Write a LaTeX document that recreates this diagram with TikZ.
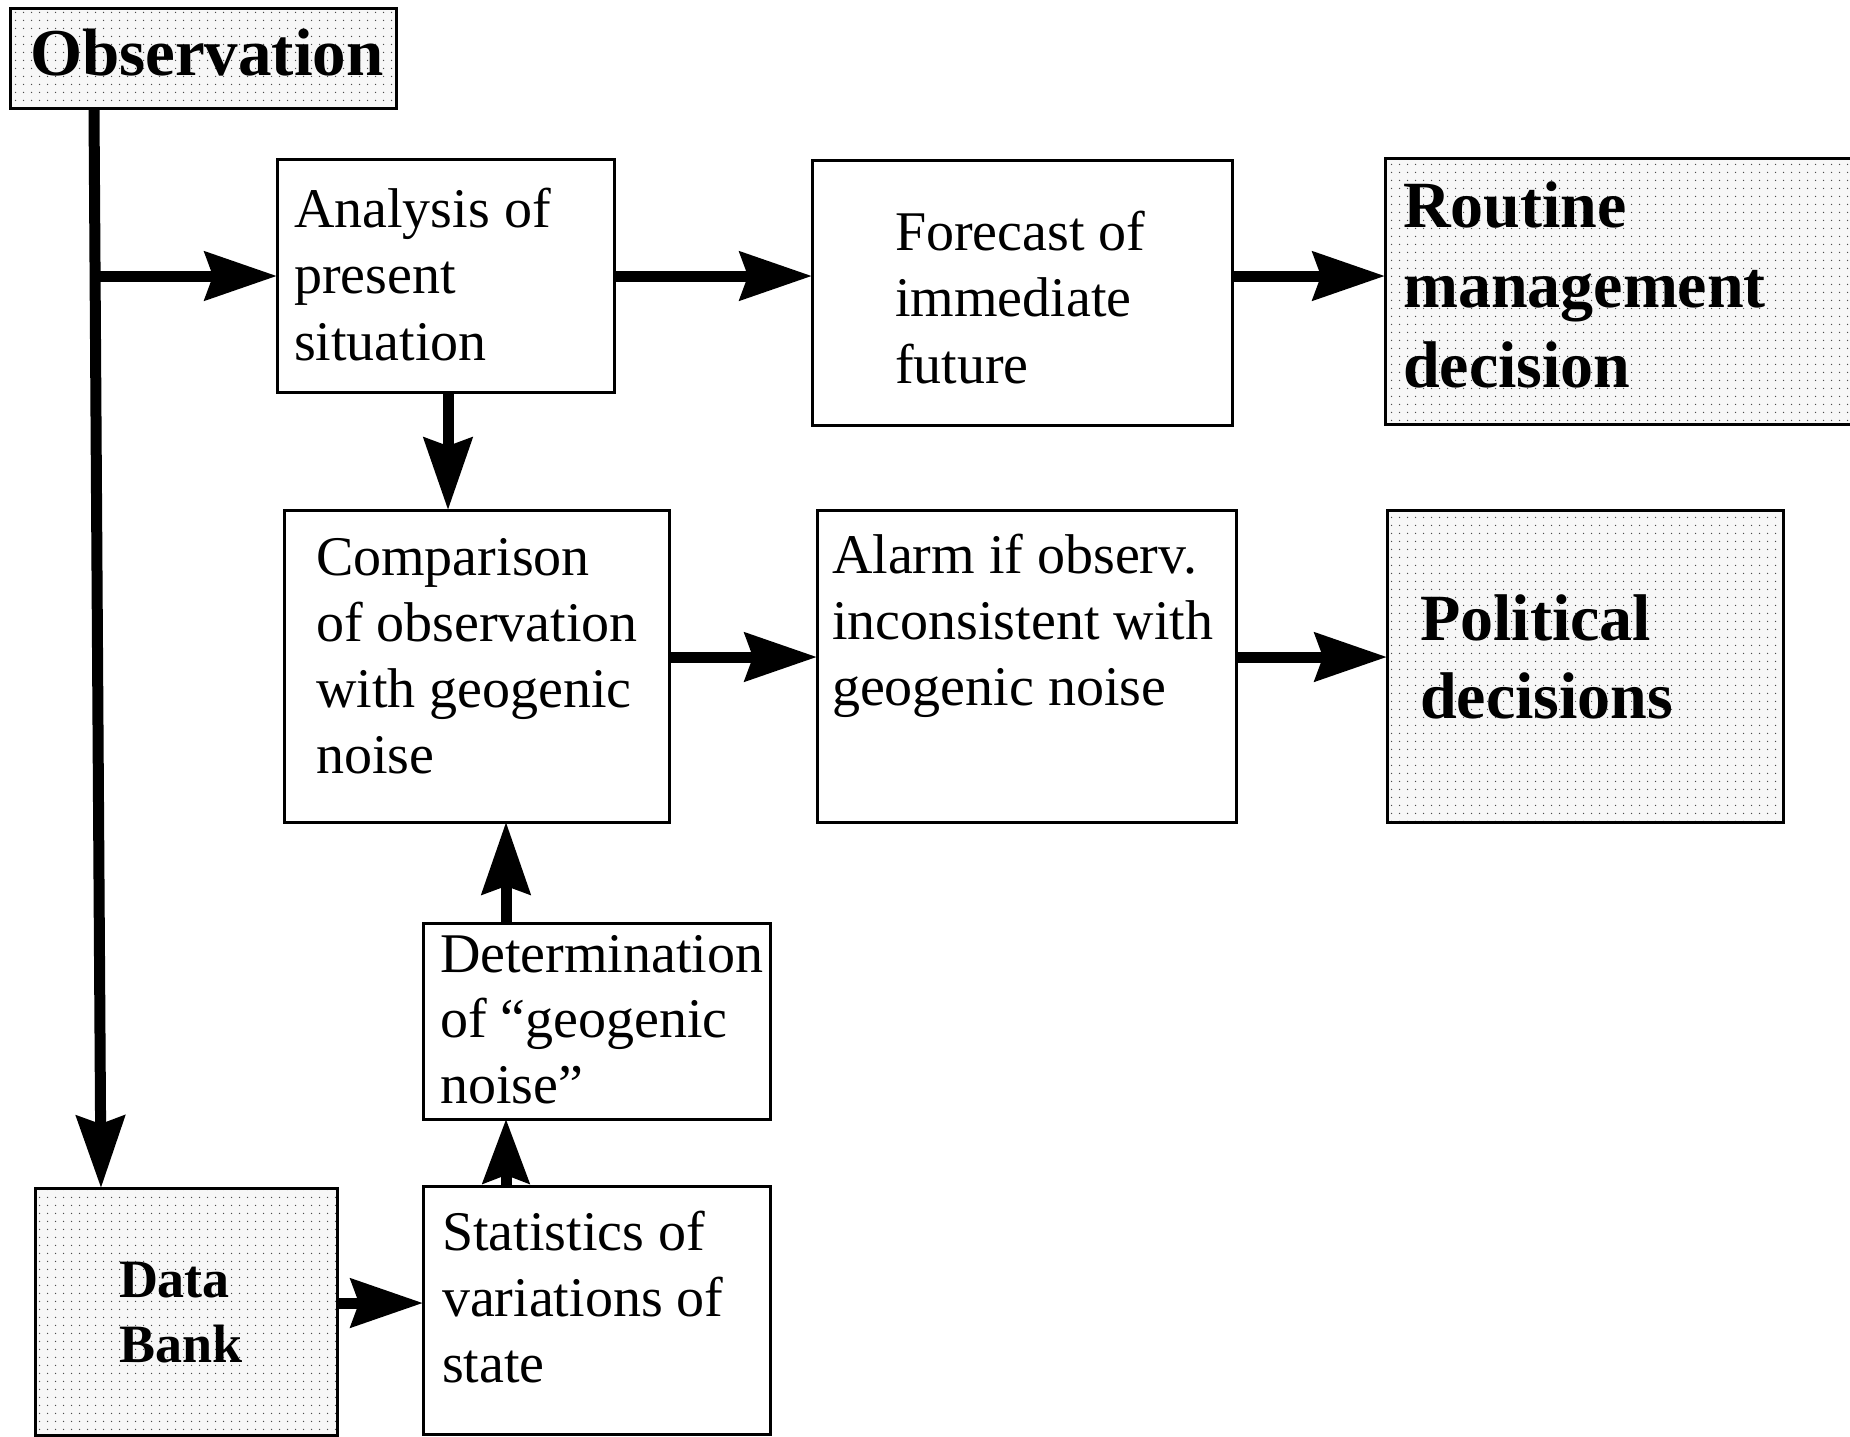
\documentclass[tikz,border=0pt]{standalone}
\usepackage{fontspec}
\setmainfont{Liberation Serif}
\usetikzlibrary{arrows.meta,patterns.meta,calc}
\newcommand\boxtext[1]{\begin{tabular}[t]{@{}l@{}}#1\end{tabular}}
\begin{document}
\begin{tikzpicture}[x=0.5pt,y=-0.5pt,
  box/.style={draw, line width=1.5pt, inner sep=0pt, outer sep=0pt, anchor=north west, fill=white},
  shadebox/.style={box, preaction={fill=black!3}, pattern={Dots[distance=4pt, radius=0.4pt]}, pattern color=black!70},
  txt/.style={anchor=base west, inner sep=0pt, outer sep=0pt},
  reg/.style={txt, font=\fontsize{28}{33}\selectfont},
  bld/.style={txt, font=\fontsize{33}{40}\selectfont\bfseries},
  arr/.style={line width=5.5pt, -{Stealth[length=36pt, width=24pt, inset=4pt]}},
  shortarr/.style={line width=5.5pt, -{Stealth[length=32pt, width=23pt, inset=4pt]}}
]
\useasboundingbox (0,0) rectangle (1850,1436);

% boxes
\node[shadebox, minimum width=193pt, minimum height=50pt] (obs) at (10,8) {};
\node[box, minimum width=168.5pt, minimum height=116.5pt] (analysis) at (277,159) {};
\node[box, minimum width=210pt, minimum height=132.5pt] (forecast) at (812,160) {};
\node[shadebox, minimum width=245pt, minimum height=133pt] (routine) at (1385,158) {};
\node[box, minimum width=192.5pt, minimum height=156pt] (comparison) at (284,510) {};
\node[box, minimum width=209.5pt, minimum height=156pt] (alarm) at (817,510) {};
\node[shadebox, minimum width=198pt, minimum height=156pt] (political) at (1387,510) {};
\node[box, minimum width=173.5pt, minimum height=98pt] (determination) at (423,923) {};
\node[box, minimum width=173.5pt, minimum height=124pt] (statistics) at (423,1186) {};
\node[shadebox, minimum width=151pt, minimum height=123.5pt] (databank) at (35,1188) {};

% texts
\node[txt, font=\fontsize{33.5}{40}\selectfont\bfseries] (tobs) at (30,75) {Observation};
\node[reg, font=\fontsize{28}{33.25}\selectfont] (tanalysis) at (294,227) {\boxtext{Analysis of\\present\\situation}};
\node[reg, font=\fontsize{28}{33.25}\selectfont] (tforecast) at (895,250) {\boxtext{Forecast of\\immediate\\future}};
\node[bld] (troutine) at (1403,227) {\boxtext{Routine\\management\\decision}};
\node[reg] (tcomparison) at (316,575) {\boxtext{Comparison\\of observation\\with geogenic\\noise}};
\node[reg] (talarm) at (832,573) {\boxtext{Alarm if observ.\\inconsistent with\\geogenic noise}};
\node[bld, font=\fontsize{33}{39}\selectfont\bfseries] (tpolitical) at (1420,640) {\boxtext{Political\\decisions}};
\node[reg, font=\fontsize{28}{32.75}\selectfont] (tdetermination) at (440,972) {\boxtext{Determination\\of “geogenic\\noise”}};
\node[reg] (tstatistics) at (442,1250) {\boxtext{Statistics of\\variations of\\state}};
\node[txt, font=\fontsize{27}{32.5}\selectfont\bfseries] (tdatabank) at (119,1297) {\boxtext{Data\\Bank}};

% connectors
\coordinate (branch) at (95,276);
\coordinate (row2) at (0,657);
\coordinate (row3) at (0,1303);
\coordinate (colA) at (448,0);
\coordinate (colB) at (506,0);
\draw[arr] ($(obs.south west)+(84,0)$) -- ($(databank.north west)+(66,0)$);
\draw[arr] (branch) -- (analysis.west |- branch);
\draw[arr] (analysis.east |- branch) -- (forecast.west |- branch);
\draw[arr] (forecast.east |- branch) -- (routine.west |- branch);
\draw[arr] (analysis.south -| colA) -- (comparison.north -| colA);
\draw[arr] (comparison.east |- row2) -- (alarm.west |- row2);
\draw[arr] (alarm.east |- row2) -- (political.west |- row2);
\draw[arr] (determination.north -| colB) -- (comparison.south -| colB);
\draw[shortarr] (statistics.north -| colB) -- (determination.south -| colB);
\draw[arr] (databank.east |- row3) -- (statistics.west |- row3);
\end{tikzpicture}
\end{document}
